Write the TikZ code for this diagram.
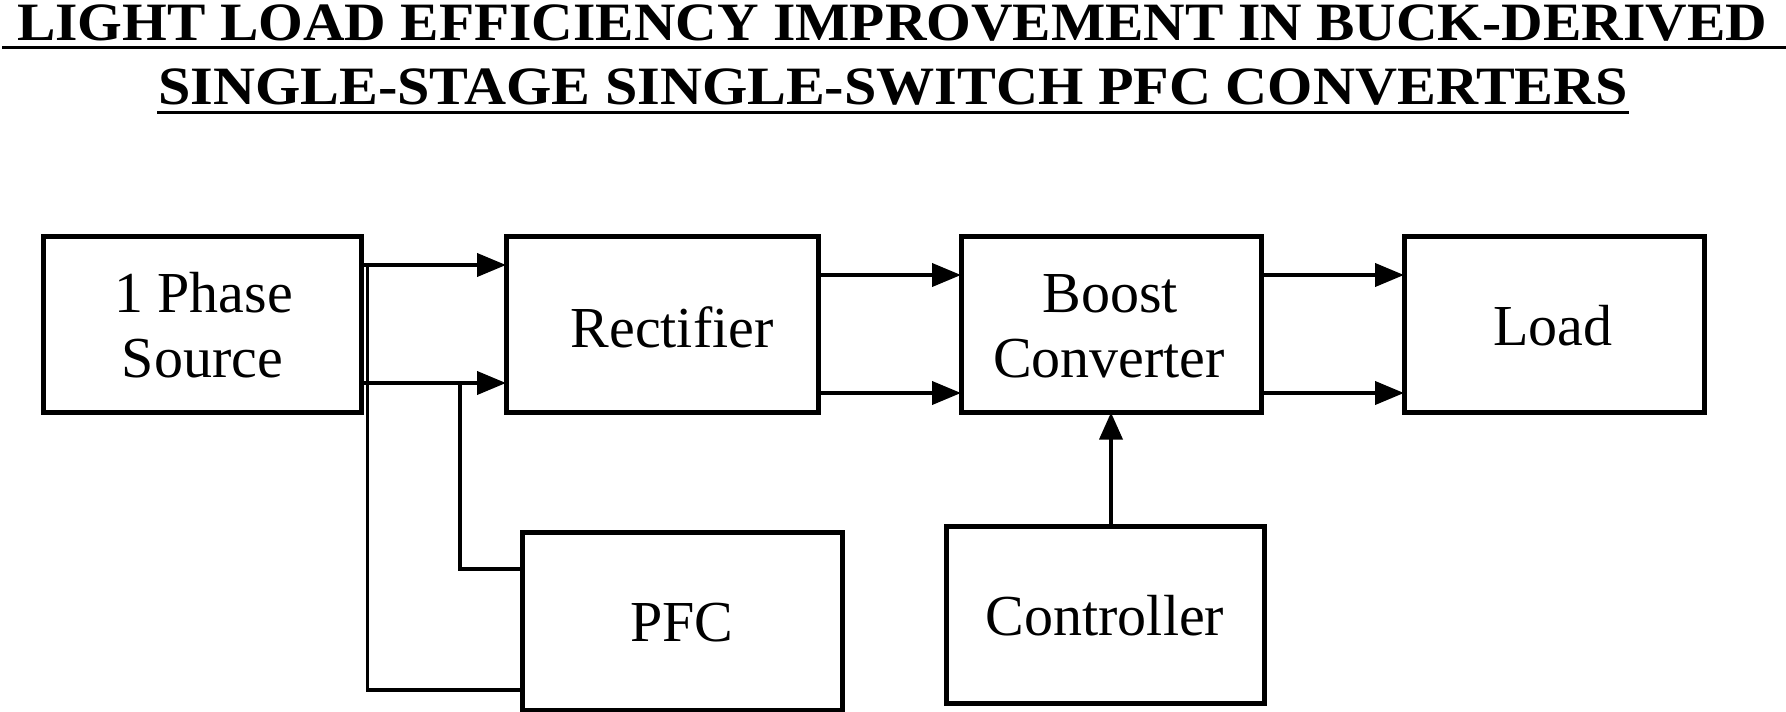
\documentclass[tikz,border=0pt]{standalone}
\usepackage{fontspec}
\setmainfont{Liberation Serif}
\usetikzlibrary{arrows.meta}
\begin{document}
\begin{tikzpicture}[x=1pt,y=-1pt,
  box/.style={draw,line width=5pt,inner sep=0pt,outer sep=0pt},
  lbl/.style={anchor=base,inner sep=0pt,font=\fontsize{58}{65}\selectfont},
  wire/.style={line width=4pt},
  vwire/.style={line width=3.5pt},
  arr/.style={wire,-{Triangle[length=29pt,width=23pt]}},
  varr/.style={line width=3.6pt,-{Triangle[length=27pt,width=23pt]}},
  ttl/.style={anchor=base west,inner sep=0pt,font=\fontsize{54}{60}\selectfont\bfseries},
  uline/.style={line width=3pt}]
\useasboundingbox (0,0) rectangle (1786,712);
% title
\node[ttl] (t1) at (17,40) {\resizebox{1750pt}{\height}{LIGHT LOAD EFFICIENCY IMPROVEMENT IN BUCK-DERIVED}};
\node[ttl] (t2) at (158,104) {\resizebox{1470pt}{\height}{SINGLE-STAGE SINGLE-SWITCH PFC CONVERTERS}};
\draw[uline] (2,47.5) -- (1786,47.5);
\draw[uline] (157,112) -- (1629,112);
% boxes
\node[box,minimum width=318pt,minimum height=176.5pt] (src) at (202,324.25) {};
\node[box,minimum width=312pt,minimum height=176.5pt] (rect) at (662,324.25) {};
\node[box,minimum width=300pt,minimum height=176.5pt] (boost) at (1111,324.25) {};
\node[box,minimum width=300pt,minimum height=176.5pt] (load) at (1554,324.25) {};
\node[box,minimum width=320pt,minimum height=178pt] (pfc) at (682,621) {};
\node[box,minimum width=318pt,minimum height=177pt] (ctrl) at (1105,614.5) {};
% labels
\node[lbl] (srcA) at (203.5,312) {1 Phase};
\node[lbl] (srcB) at (202.5,377) {Source};
\node[lbl] (rectL) at (672,347) {Rectifier};
\node[lbl] (boostA) at (1110,312) {Boost};
\node[lbl] (boostB) at (1109,377) {Converter};
\node[lbl] (loadL) at (1553,345) {Load};
\node[lbl] (pfcL) at (682,641) {PFC};
\node[lbl] (ctrlL) at (1105,635) {Controller};
% helper coordinates
\coordinate (ya) at (0,265);
\coordinate (yb) at (0,383);
\coordinate (yc) at (0,275);
\coordinate (yd) at (0,393);
\coordinate (ye) at (0,690);
\coordinate (yf) at (0,569);
\coordinate (j1) at (367.5,265);
\coordinate (j2) at (460,383);
\coordinate (bx) at (1111,0);
% connectors
\draw[arr] (src.east |- ya) -- (rect.west |- ya);
\draw[arr] (src.east |- yb) -- (rect.west |- yb);
\draw[vwire] (j1) -- (j1 |- ye) -- (pfc.west |- ye);
\draw[vwire] (j2) -- (j2 |- yf) -- (pfc.west |- yf);
\draw[arr] (rect.east |- yc) -- (boost.west |- yc);
\draw[arr] (rect.east |- yd) -- (boost.west |- yd);
\draw[arr] (boost.east |- yc) -- (load.west |- yc);
\draw[arr] (boost.east |- yd) -- (load.west |- yd);
\draw[varr] (ctrl.north -| bx) -- (boost.south -| bx);
\end{tikzpicture}
\end{document}
